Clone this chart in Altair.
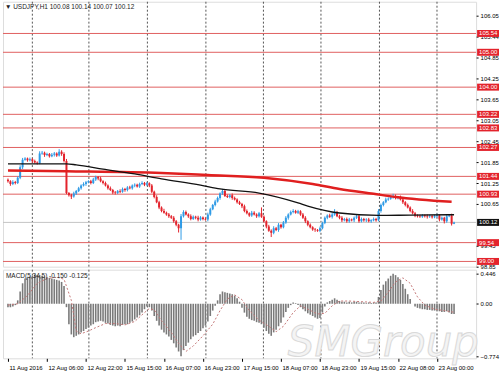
import json
import altair as alt
import pandas as pd

# ---------------- data ----------------
closes = [
    101.30, 101.22, 101.28, 101.25, 101.40, 101.70, 101.92, 101.95, 101.90, 101.93,
    101.88, 101.84, 101.82, 102.10, 102.12, 102.05, 102.08, 102.02, 102.06, 102.10,
    102.04, 102.15, 102.08, 101.88, 100.96, 100.90, 100.86, 100.95, 101.02, 101.10,
    101.18, 101.22, 101.27, 101.30, 101.25, 101.35, 101.42, 101.38, 101.30, 101.25,
    101.18, 101.10, 101.05, 100.98, 100.96, 101.02, 101.00, 101.08, 101.05, 101.12,
    101.10, 101.18, 101.20, 101.15, 101.22, 101.25, 101.20, 101.24, 101.18, 101.00,
    100.85, 100.70, 100.55, 100.45, 100.40, 100.35, 100.30, 100.25, 100.15, 100.05,
    99.95, 100.30, 100.42, 100.35, 100.30, 100.22, 100.28, 100.25, 100.20, 100.26,
    100.22, 100.20, 100.35, 100.50, 100.62, 100.72, 100.82, 100.95, 101.02, 100.88,
    100.85, 100.90, 100.82, 100.78, 100.70, 100.65, 100.58, 100.45, 100.38, 100.32,
    100.40, 100.35, 100.30, 100.38, 100.28, 100.15, 100.00, 99.88, 99.82, 99.95,
    99.90, 100.05, 99.98, 100.12, 100.25, 100.35, 100.42, 100.45, 100.40, 100.44,
    100.35, 100.25, 100.15, 100.05, 99.98, 99.92, 99.90, 99.88, 99.95, 100.10,
    100.25, 100.32, 100.28, 100.35, 100.42, 100.30, 100.25, 100.18, 100.22, 100.15,
    100.20, 100.18, 100.25, 100.30, 100.15, 100.22, 100.18, 100.20, 100.15, 100.18,
    100.22, 100.18, 100.45, 100.62, 100.70, 100.78, 100.80, 100.85, 100.88, 100.82,
    100.85, 100.78, 100.70, 100.62, 100.55, 100.45, 100.38, 100.32, 100.30, 100.28,
    100.32, 100.30, 100.28, 100.30, 100.27, 100.30, 100.32, 100.20, 100.25, 100.15,
    100.30, 100.32, 100.08, 100.12,
]
first_open = 101.34

# wick lengths in pips (0.01)
upper_wick = [
    4, 3, 5, 3, 4, 6, 5, 4, 3, 5,
    3, 4, 3, 6, 5, 3, 4, 3, 5, 4,
    3, 7, 4, 5, 6, 3, 4, 5, 3, 4,
    3, 5, 4, 3, 4, 5, 4, 3, 5, 3,
    4, 3, 5, 3, 4, 3, 5, 4, 3, 4,
    5, 3, 4, 3, 4, 5, 3, 4, 3, 4,
    3, 5, 4, 3, 6, 3, 4, 3, 5, 4,
    3, 6, 5, 4, 3, 5, 4, 3, 6, 4,
    3, 4, 5, 4, 3, 5, 4, 3, 6, 5,
    4, 3, 5, 4, 3, 4, 3, 5, 4, 3,
    5, 4, 3, 4, 17, 4, 3, 5, 4, 6,
    4, 5, 3, 4, 5, 3, 4, 5, 3, 4,
    3, 4, 5, 3, 4, 3, 4, 3, 5, 4,
    4, 3, 5, 4, 8, 3, 4, 5, 3, 4,
    5, 3, 4, 3, 5, 4, 3, 4, 5, 3,
    4, 3, 5, 4, 3, 5, 4, 3, 6, 4,
    3, 4, 5, 3, 4, 3, 5, 4, 3, 4,
    4, 3, 5, 4, 3, 4, 5, 3, 4, 3,
    4, 3, 5, 2,
]
lower_wick = [
    4, 5, 3, 4, 3, 4, 5, 3, 4, 3,
    5, 3, 4, 3, 4, 5, 3, 4, 3, 5,
    4, 3, 5, 4, 3, 4, 7, 3, 4, 3,
    4, 3, 5, 3, 4, 3, 4, 5, 3, 4,
    3, 4, 3, 5, 4, 3, 4, 3, 5, 4,
    3, 4, 5, 3, 4, 3, 4, 3, 5, 4,
    4, 3, 5, 4, 3, 4, 5, 3, 4, 4,
    12, 33, 4, 3, 5, 4, 3, 4, 5, 3,
    4, 3, 5, 4, 3, 4, 3, 5, 4, 3,
    3, 4, 5, 3, 4, 3, 5, 4, 3, 4,
    4, 3, 5, 4, 3, 4, 5, 3, 12, 4,
    3, 5, 4, 3, 4, 5, 3, 4, 3, 4,
    4, 3, 5, 4, 3, 4, 5, 3, 4, 3,
    3, 4, 3, 5, 4, 3, 4, 5, 3, 4,
    4, 3, 5, 3, 4, 3, 4, 5, 3, 4,
    3, 4, 3, 5, 4, 3, 4, 3, 5, 4,
    4, 3, 5, 4, 3, 4, 3, 5, 4, 3,
    3, 4, 5, 3, 4, 3, 4, 5, 3, 6,
    4, 3, 5, 1,
]

macd_hist = [
    -0.05, -0.05, -0.04, -0.02, 0.05, 0.18, 0.30, 0.37, 0.39, 0.40,
    0.41, 0.43, 0.42, 0.42, 0.41, 0.40, 0.39, 0.38, 0.37, 0.36,
    0.35, 0.34, 0.32, 0.26, -0.05, -0.30, -0.45, -0.49, -0.47, -0.45,
    -0.42, -0.40, -0.37, -0.35, -0.32, -0.30, -0.27, -0.26, -0.25, -0.26,
    -0.28, -0.29, -0.31, -0.32, -0.33, -0.32, -0.33, -0.31, -0.30, -0.30,
    -0.28, -0.26, -0.23, -0.20, -0.17, -0.13, -0.08, -0.04, -0.05, -0.10,
    -0.18, -0.25, -0.32, -0.38, -0.42, -0.45, -0.48, -0.53, -0.58, -0.64,
    -0.70, -0.77, -0.68, -0.62, -0.57, -0.52, -0.48, -0.46, -0.43, -0.40,
    -0.36, -0.32, -0.26, -0.18, -0.10, -0.03, 0.05, 0.14, 0.18, 0.17,
    0.16, 0.15, 0.14, 0.12, 0.08, 0.03, -0.06, -0.13, -0.19, -0.22,
    -0.24, -0.25, -0.27, -0.28, -0.30, -0.35, -0.40, -0.44, -0.47, -0.42,
    -0.38, -0.33, -0.28, -0.20, -0.12, -0.06, -0.02, 0.02, 0.01, -0.02,
    -0.05, -0.08, -0.11, -0.14, -0.16, -0.18, -0.20, -0.22, -0.21, -0.13,
    -0.04, 0.02, 0.04, 0.06, 0.08, 0.06, 0.04, 0.03, 0.03, 0.02,
    0.03, 0.02, 0.03, 0.03, 0.02, 0.02, 0.02, 0.01, 0.02, 0.01,
    0.02, 0.02, 0.10, 0.20, 0.28, 0.33, 0.37, 0.41, 0.44, 0.42,
    0.39, 0.35, 0.29, 0.22, 0.14, 0.07, 0.00, -0.04, -0.06, -0.07,
    -0.08, -0.08, -0.09, -0.09, -0.10, -0.10, -0.10, -0.11, -0.12, -0.12,
    -0.11, -0.13, -0.15, -0.15,
]

signal_bar = [0, 4, 8, 12, 16, 20, 23, 26, 28, 30, 33, 36, 40, 44, 48, 52, 56, 58, 60,
              63, 67, 70, 73, 76, 80, 84, 87, 90, 93, 96, 99, 103, 107, 110, 113, 117,
              120, 123, 127, 130, 133, 136, 140, 150, 153, 156, 159, 162, 165, 168, 171,
              175, 179, 183]
signal_val = [-0.02, 0.00, 0.12, 0.30, 0.37, 0.39, 0.36, 0.05, -0.40, -0.44, -0.40,
              -0.35, -0.29, -0.29, -0.31, -0.26, -0.13, -0.07, -0.09, -0.25, -0.42,
              -0.58, -0.70, -0.62, -0.47, -0.30, -0.10, 0.07, 0.13, 0.06, -0.10, -0.24,
              -0.33, -0.41, -0.33, -0.13, -0.03, -0.08, -0.15, -0.14, -0.03, 0.04, 0.04,
              0.02, 0.04, 0.17, 0.32, 0.38, 0.30, 0.10, -0.02, -0.08, -0.10, -0.125]

ma_black_bar = [0, 24, 28, 39, 52, 63, 79, 87, 103, 119, 123, 136, 152, 165, 183]
ma_black_val = [101.80, 101.80, 101.77, 101.65, 101.51, 101.37, 101.19, 101.08, 100.96,
                100.68, 100.59, 100.39, 100.32, 100.33, 100.34]
ma_red_bar = [0, 24, 63, 82, 105, 125, 136, 150, 159, 182]
ma_red_val = [101.61, 101.59, 101.54, 101.48, 101.40, 101.22, 101.08, 100.94, 100.85, 100.71]

levels = [105.54, 105.00, 104.00, 103.22, 102.83, 102.27, 101.44, 100.93, 99.54, 99.00]
bid_price = 100.12
price_ticks = [106.05, 105.44, 104.85, 104.25, 103.65, 103.05, 102.45, 101.85, 101.25,
               100.65, 99.45, 98.85]
macd_ticks = [0.446, 0.0, -0.774]
grid_bars = [10, 33.2, 57.2, 81.2, 104.8, 128.4, 152.4, 176.0]
time_bars = [0, 16, 32, 48, 64, 80, 96, 112, 128, 144, 160, 176]
time_labels = ["11 Aug 2016", "12 Aug 06:00", "12 Aug 22:00", "15 Aug 15:00",
               "16 Aug 07:00", "16 Aug 23:00", "17 Aug 15:00", "18 Aug 07:00",
               "18 Aug 23:00", "19 Aug 15:00", "22 Aug 08:00", "23 Aug 00:00"]
title_text = "\u25BC USDJPY,H1  100.08 100.14 100.07 100.12"
macd_text = "MACD(5,34,5) -0.150 -0.125"
watermark = "SMGroup"

# ---------------- tables ----------------
opens = [first_open] + closes[:-1]
rows = []
for i, (o, c, uw, lw) in enumerate(zip(opens, closes, upper_wick, lower_wick)):
    rows.append({"i": i, "open": o, "close": c,
                 "high": max(o, c) + uw / 100.0, "low": min(o, c) - lw / 100.0,
                 "dir": "up" if c >= o else "down"})
candles = pd.DataFrame(rows)
macd_df = pd.DataFrame({"i": list(range(len(macd_hist))), "v": macd_hist})
sig_df = pd.DataFrame({"i": signal_bar, "v": signal_val})
black_df = pd.DataFrame({"i": ma_black_bar, "p": ma_black_val})
red_df = pd.DataFrame({"i": ma_red_bar, "p": ma_red_val})
lev_df = pd.DataFrame({"p": levels, "t": [f"{v:.2f}" for v in levels]})
bid_df = pd.DataFrame({"p": [bid_price], "t": [f"{bid_price:.2f}"]})
grid_df = pd.DataFrame({"i": grid_bars})
title_df = pd.DataFrame({"t": [title_text]})
macd_t_df = pd.DataFrame({"t": [macd_text]})
wm_df = pd.DataFrame({"t": [watermark]})

W = 475
FONT = "Liberation Sans"
FS = 6
BLUE = "#2f9be6"
RED = "#e3232c"

xscale = alt.Scale(domain=[0, 190], nice=False, zero=False)
pscale = alt.Scale(domain=[98.85, 106.45], nice=False, zero=False)
mscale = alt.Scale(domain=[-0.80, 0.50], nice=False, zero=False)

paxis = alt.Axis(orient="right", values=price_ticks, format=".2f", title=None,
                 labelFontSize=FS, labelFont=FONT, labelColor="#000", tickSize=2,
                 tickColor="#000", domain=False, grid=False, labelPadding=2, zindex=0)
maxis = alt.Axis(orient="right", values=macd_ticks, title=None,
                 labelExpr="datum.value == 0 ? '0.00' : format(datum.value, '.3f')",
                 labelFontSize=FS, labelFont=FONT, labelColor="#000", tickSize=2,
                 tickColor="#000", domain=False, grid=False, labelPadding=2, zindex=0)
xaxis = alt.Axis(values=time_bars, title=None,
                 labelExpr=json.dumps(time_labels).replace('"', "'") + "[round(datum.value/16)]",
                 labelAlign="left", labelFlush=False, labelOverlap=False, labelBound=False,
                 labelFontSize=FS, labelFont=FONT, labelColor="#000", tickSize=3,
                 tickColor="#000", domain=False, grid=False, labelPadding=3, labelOffset=1)


def X(field="i", axis=None):
    return alt.X(f"{field}:Q", scale=xscale, axis=axis)


def PY(field):
    return alt.Y(f"{field}:Q", scale=pscale, axis=paxis)


def MY(field):
    return alt.Y(f"{field}:Q", scale=mscale, axis=maxis)


dir_color = alt.Color("dir:N", scale=alt.Scale(domain=["up", "down"], range=[BLUE, RED]),
                      legend=None)

# ---------------- main price panel ----------------
grid_main = alt.Chart(grid_df).mark_rule(color="#555555", strokeDash=[2, 2], strokeWidth=1).encode(
    x=X())
lev_rules = alt.Chart(lev_df).mark_rule(color="#e06060", strokeWidth=1).encode(y=PY("p"))
bid_rule = alt.Chart(bid_df).mark_rule(color="#c4c4c4", strokeWidth=1).encode(y=PY("p"))
wicks = alt.Chart(candles).mark_rule(strokeWidth=1, clip=True).encode(
    x=X(), y=PY("low"), y2="high:Q", color=dir_color)
bodies = alt.Chart(candles).mark_bar(size=2, clip=True, orient="vertical").encode(
    x=X(), y=PY("open"), y2="close:Q", color=dir_color)
red_ma = alt.Chart(red_df).mark_line(color="#e01f1f", strokeWidth=2.5, interpolate="monotone").encode(
    x=X(), y=PY("p"))
black_ma = alt.Chart(black_df).mark_line(color="#111111", strokeWidth=1.3, interpolate="monotone").encode(
    x=X(), y=PY("p"))
lev_boxes = alt.Chart(lev_df).mark_tick(orient="horizontal", size=22, thickness=7, color=RED,
                                         opacity=1).encode(x=alt.value(W + 12), y=PY("p"))
lev_text = alt.Chart(lev_df).mark_text(align="left", baseline="middle", fontSize=FS, font=FONT,
                                       color="white").encode(x=alt.value(W + 3), y=PY("p"), text="t:N")
bid_box = alt.Chart(bid_df).mark_tick(orient="horizontal", size=22, thickness=7, color="#111111",
                                       opacity=1).encode(x=alt.value(W + 12), y=PY("p"))
bid_text = alt.Chart(bid_df).mark_text(align="left", baseline="middle", fontSize=FS, font=FONT,
                                       color="white").encode(x=alt.value(W + 3), y=PY("p"), text="t:N")
title = alt.Chart(title_df).mark_text(align="left", baseline="middle", fontSize=6.5, font=FONT,
                                      color="#222222").encode(x=alt.value(2), y=alt.value(5), text="t:N")

main = alt.layer(grid_main, lev_rules, bid_rule, wicks, bodies, red_ma, black_ma,
                 lev_boxes, lev_text, bid_box, bid_text, title).properties(width=W, height=266)

# ---------------- MACD panel ----------------
grid_macd = alt.Chart(grid_df).mark_rule(color="#555555", strokeDash=[2, 2], strokeWidth=1).encode(
    x=X(axis=xaxis))
hist = alt.Chart(macd_df).mark_bar(size=1.6, color="#7a7a7a", orient="vertical").encode(
    x=X(axis=xaxis), y=MY("v"), y2=alt.datum(0))
sig = alt.Chart(sig_df).mark_line(color="#c47878", strokeWidth=1, strokeDash=[2, 2]).encode(
    x=X(axis=xaxis), y=MY("v"))
macd_label = alt.Chart(macd_t_df).mark_text(align="left", baseline="middle", fontSize=6.5, font=FONT,
                                            color="#222222").encode(x=alt.value(3), y=alt.value(6), text="t:N")
wm = alt.Chart(wm_df).mark_text(align="left", baseline="alphabetic", fontSize=42, font="DejaVu Sans",
                                fontStyle="italic", color="#f4f4f4", stroke="#d9d9d9",
                                strokeWidth=1).encode(x=alt.value(286), y=alt.value(87), text="t:N")

macd = alt.layer(grid_macd, wm, hist, sig, macd_label).properties(width=W, height=89)

chart = alt.vconcat(main, macd, spacing=3, bounds="flush").properties(
    padding={"left": 2, "top": 0, "right": 0, "bottom": 0}
).configure_view(stroke="#000000", strokeWidth=1).configure(background="white")

chart.save("out.html", embed_options={"renderer": "svg", "actions": False})
